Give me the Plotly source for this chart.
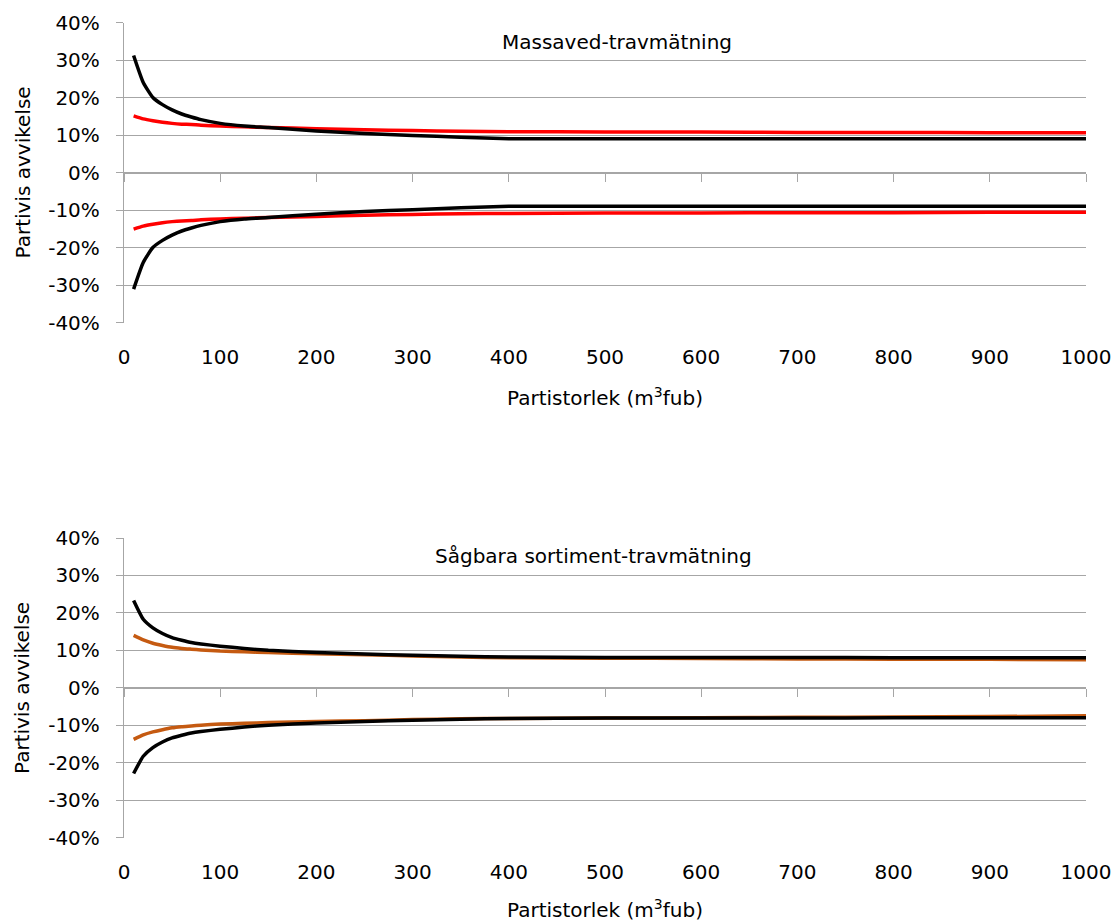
import plotly.graph_objects as go

# Batch size (m3fub)
n = [10, 20, 30, 40, 50, 60, 70, 80, 100, 125, 150, 200, 250, 300, 350, 400,
     500, 600, 700, 800, 900, 1000]

# Top chart: Massaved-travmätning (fractions)
mv_black_upper = [0.312, 0.240, 0.200, 0.181, 0.167, 0.156, 0.148, 0.141, 0.131, 0.124,
                  0.120, 0.111, 0.104, 0.099, 0.094, 0.090, 0.090, 0.090, 0.090, 0.090, 0.090, 0.090]
mv_black_lower = [-0.311, -0.240, -0.200, -0.181, -0.167, -0.156, -0.148, -0.141, -0.131, -0.124,
                  -0.120, -0.111, -0.104, -0.099, -0.094, -0.090, -0.090, -0.090, -0.090, -0.090, -0.090, -0.090]
mv_red_upper = [0.151, 0.143, 0.138, 0.134, 0.131, 0.129, 0.128, 0.126, 0.124, 0.122,
                0.120, 0.117, 0.114, 0.112, 0.110, 0.109, 0.108, 0.108, 0.107, 0.107, 0.106, 0.106]
mv_red_lower = [-0.151, -0.143, -0.138, -0.134, -0.131, -0.129, -0.128, -0.126, -0.124, -0.122,
                -0.120, -0.117, -0.114, -0.112, -0.110, -0.109, -0.108, -0.108, -0.107, -0.107, -0.106, -0.106]

# Bottom chart: Sågbara sortiment-travmätning
sg_black_upper = [0.233, 0.183, 0.160, 0.145, 0.134, 0.127, 0.121, 0.117, 0.111, 0.105,
                  0.100, 0.094, 0.090, 0.087, 0.084, 0.082, 0.081, 0.081, 0.081, 0.080, 0.080, 0.080]
sg_black_lower = [-0.229, -0.183, -0.160, -0.145, -0.134, -0.127, -0.121, -0.117, -0.111, -0.105,
                  -0.100, -0.094, -0.090, -0.087, -0.084, -0.082, -0.081, -0.081, -0.081, -0.080, -0.080, -0.080]
sg_orange_upper = [0.140, 0.128, 0.119, 0.113, 0.108, 0.105, 0.103, 0.101, 0.098, 0.096,
                   0.094, 0.091, 0.088, 0.085, 0.082, 0.080, 0.079, 0.078, 0.077, 0.076, 0.076, 0.075]
sg_orange_lower = [-0.138, -0.126, -0.118, -0.112, -0.107, -0.104, -0.102, -0.100, -0.097, -0.095,
                   -0.093, -0.090, -0.088, -0.085, -0.083, -0.082, -0.081, -0.080, -0.079, -0.078, -0.077, -0.075]

x_ticks = [0, 100, 200, 300, 400, 500, 600, 700, 800, 900, 1000]
y_ticks = [-0.4, -0.3, -0.2, -0.1, 0.0, 0.1, 0.2, 0.3, 0.4]
y_labels = ["-40%", "-30%", "-20%", "-10%", "0%", "10%", "20%", "30%", "40%"]

titles = ["Massaved-travmätning", "Sågbara sortiment-travmätning"]
y_title = "Partivis avvikelse"
x_title = "Partistorlek (m<sup>3</sup>fub)"

RED = "#FF0000"
ORANGE = "#C55A11"
BLACK = "#000000"
GRID = "#A6A6A6"
FONT = "DejaVu Sans, sans-serif"
FS = 20
LW = 3.5

fig = go.Figure()

def add(x, y, color, xa, ya):
    fig.add_trace(go.Scatter(x=x, y=y, mode="lines",
                             line=dict(color=color, width=LW, shape="spline", smoothing=0.5),
                             xaxis=xa, yaxis=ya, showlegend=False, hoverinfo="skip"))

add(n, mv_red_upper, RED, "x", "y")
add(n, mv_red_lower, RED, "x", "y")
add(n, mv_black_upper, BLACK, "x", "y")
add(n, mv_black_lower, BLACK, "x", "y")
add(n, sg_orange_upper, ORANGE, "x2", "y2")
add(n, sg_orange_lower, ORANGE, "x2", "y2")
add(n, sg_black_upper, BLACK, "x2", "y2")
add(n, sg_black_lower, BLACK, "x2", "y2")
# invisible traces so that the zero-line tick axes are drawn
fig.add_trace(go.Scatter(x=[0], y=[0], mode="markers", marker=dict(opacity=0), xaxis="x3", yaxis="y",
                         showlegend=False, hoverinfo="skip"))
fig.add_trace(go.Scatter(x=[0], y=[0], mode="markers", marker=dict(opacity=0), xaxis="x4", yaxis="y2",
                         showlegend=False, hoverinfo="skip"))

W, H = 1116, 922
ML, MT = 124, 22
PW = 962
PB = 838                  # plot-area bottom in pixels
MR = W - ML - PW
MB = H - PB
PH = PB - MT

def py(p):  # pixel y -> paper y
    return (PB - p) / PH

def px(p):
    return (p - ML) / PW

top_dom = [py(322.5), py(22.5)]
bot_dom = [py(837.5), py(538)]

xcommon = dict(range=[0, 1000], tickvals=x_ticks, ticktext=[str(v) for v in x_ticks],
               showgrid=False, zeroline=False, showline=False, ticks="",
               ticklabeloverflow="allow", automargin=False,
               tickfont=dict(family=FONT, size=FS, color="black"), ticklabelstandoff=20)
ycommon = dict(range=[-0.4, 0.4], tickvals=y_ticks, ticktext=y_labels,
               showgrid=True, gridcolor=GRID, gridwidth=1.3, zeroline=False,
               showline=True, linecolor=GRID, linewidth=1.3, automargin=False,
               ticks="outside", ticklen=7, tickcolor=GRID, tickwidth=1.3,
               tickfont=dict(family=FONT, size=FS, color="black"), ticklabelstandoff=12)

zero_top = top_dom[0] + (top_dom[1] - top_dom[0]) * 0.5
zero_bot = bot_dom[0] + (bot_dom[1] - bot_dom[0]) * 0.5
zcommon = dict(range=[0, 1000], tickvals=x_ticks, showticklabels=False, showgrid=False,
               zeroline=False, showline=True, linecolor=GRID, linewidth=1.3, automargin=False,
               ticks="outside", ticklen=8, tickcolor=GRID, tickwidth=1.3, anchor="free")

fig.update_layout(
    width=W, height=H, margin=dict(l=ML, r=MR, t=MT, b=MB),
    paper_bgcolor="white", plot_bgcolor="white", showlegend=False,
    xaxis=dict(domain=[0, 1], anchor="y", **xcommon),
    yaxis=dict(domain=top_dom, anchor="x", **ycommon),
    xaxis2=dict(domain=[0, 1], anchor="y2", **xcommon),
    yaxis2=dict(domain=bot_dom, anchor="x2", **ycommon),
    xaxis3=dict(overlaying="x", position=zero_top, **zcommon),
    xaxis4=dict(overlaying="x2", position=zero_bot, **zcommon),
)

ann = []
for i, (cy, ty, xy) in enumerate([(172.5, 42, 397), (688, 556, 909)]):
    ann.append(dict(text=y_title, x=px(22), y=py(cy), xref="paper", yref="paper",
                    textangle=-90, showarrow=False, xanchor="center", yanchor="middle",
                    font=dict(family=FONT, size=FS, color="black")))
    ann.append(dict(text=x_title, x=px(605), y=py(xy), xref="paper", yref="paper",
                    showarrow=False, xanchor="center", yanchor="middle",
                    font=dict(family=FONT, size=FS, color="black")))
    ann.append(dict(text=titles[i], x=px([617, 593][i]), y=py(ty), xref="paper", yref="paper",
                    showarrow=False, xanchor="center", yanchor="middle",
                    font=dict(family=FONT, size=FS, color="black")))
fig.update_layout(annotations=ann)

# remove the default page margin so the figure fills the window exactly
fig.write_html("out.html", config={"displayModeBar": False},
               post_script="document.body.style.margin='0';document.body.style.overflow='hidden';")
